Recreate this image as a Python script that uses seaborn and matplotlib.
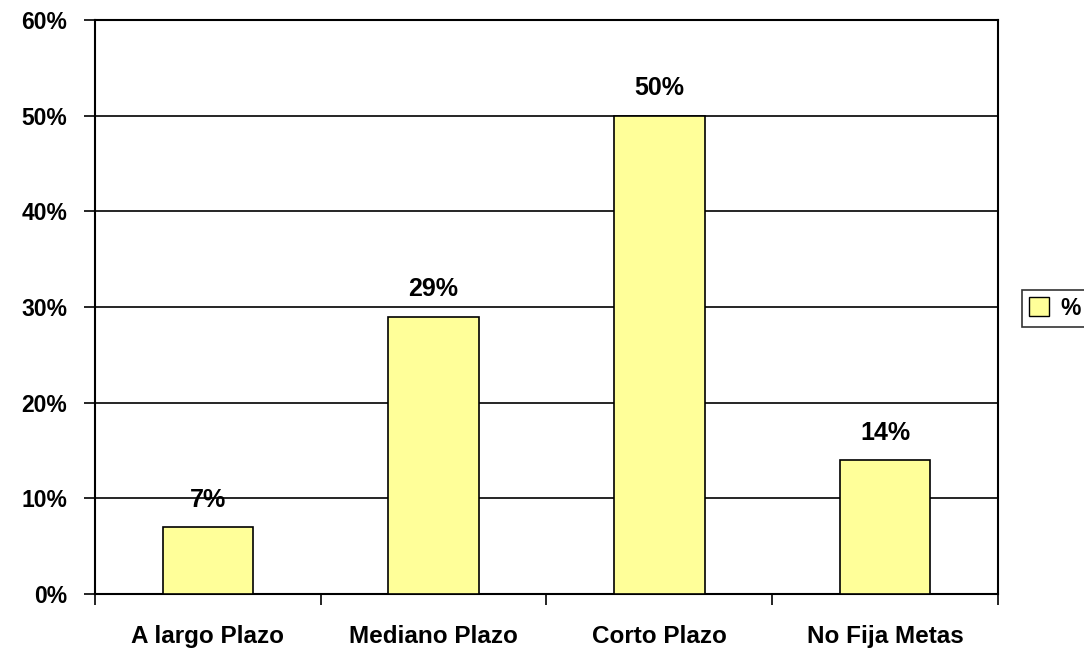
import pandas as pd
import matplotlib
matplotlib.use("Agg")
from matplotlib import pyplot as plt
from matplotlib.patches import Patch
import seaborn as sns

# datos del grafico
categorias = ["A largo Plazo", "Mediano Plazo", "Corto Plazo", "No Fija Metas"]
porcentajes = [7, 29, 50, 14]
ticks_y = [0, 10, 20, 30, 40, 50, 60]

df = pd.DataFrame({"categoria": categorias, "pct": porcentajes})

sns.set_style("white")
plt.rcParams['font.family'] = ['Liberation Sans', 'DejaVu Sans']
plt.rcParams['font.weight'] = 'bold'
plt.rcParams['text.color'] = 'black'
plt.rcParams['xtick.color'] = 'black'
plt.rcParams['ytick.color'] = 'black'

fig = plt.figure(figsize=(10.84, 6.49), dpi=100)
ax = fig.add_axes([0.0876, 0.0847, 0.8331, 0.8845])

sns.barplot(data=df, x="categoria", y="pct", color="#FFFF99", saturation=1,
            edgecolor="black", linewidth=1.2, width=0.4, ax=ax, zorder=3)

ax.set_ylim(0, 60)
ax.set_xlim(-0.5, len(categorias) - 0.5)
ax.set_yticks(ticks_y)
ax.set_yticklabels([f"{t}%" for t in ticks_y], fontsize=16.5, fontweight="bold")
ax.yaxis.grid(True, color="black", linewidth=1.2, zorder=0)
ax.set_axisbelow(True)

# etiquetas del eje x y marcas entre categorias
ax.set_xticks(range(len(categorias)))
ax.set_xticklabels(categorias, fontsize=17.5, fontweight="bold")
ax.tick_params(axis="x", which="major", bottom=True, length=0, pad=22)
ax.set_xticks([i - 0.5 for i in range(len(categorias) + 1)], minor=True)
ax.tick_params(axis="x", which="minor", bottom=True, direction="out", length=8, width=1.2, color="black")
ax.tick_params(axis="y", left=True, direction="out", length=8, width=1.2, color="black", pad=12)
ax.set_xlabel("")
ax.set_ylabel("")

for s in ax.spines.values():
    s.set_color("black")
    s.set_linewidth(1.5)
    s.set_visible(True)

# valores sobre las barras
for i, v in enumerate(porcentajes):
    ax.text(i, v + 1.6, f"{v}%", ha="center", va="bottom", fontsize=18, fontweight="bold",
            color="black")

leg = fig.legend(handles=[Patch(facecolor="#FFFF99", edgecolor="black", label="%")],
                 loc="center left", bbox_to_anchor=(0.932, 0.525), frameon=True,
                 fancybox=False, fontsize=16.5, handlelength=0.9, handleheight=0.9,
                 handletextpad=0.5, borderpad=0.3)
leg.get_frame().set_edgecolor("black")
leg.get_frame().set_linewidth(1.2)
for t in leg.get_texts():
    t.set_fontweight("bold")
    t.set_color("black")

fig.savefig("out.png", dpi=100)
